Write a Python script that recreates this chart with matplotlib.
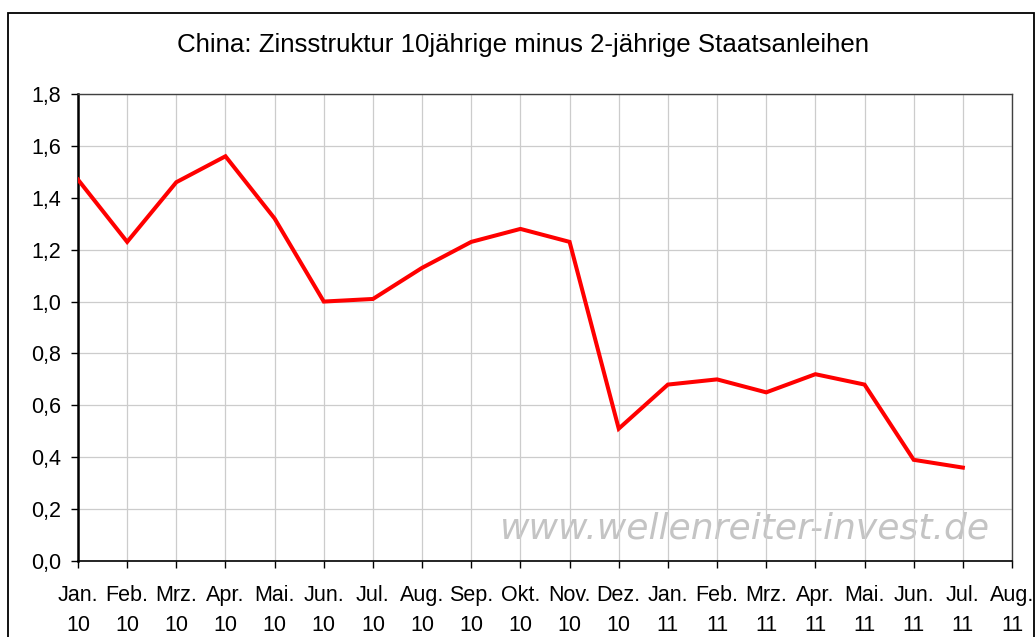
import matplotlib
matplotlib.use("Agg")
import matplotlib.pyplot as plt
from matplotlib.patches import Rectangle
from matplotlib.ticker import FuncFormatter, FixedLocator

plt.rcParams['font.family'] = ['Liberation Sans', 'DejaVu Sans']

months = ["Jan.", "Feb.", "Mrz.", "Apr.", "Mai.", "Jun.", "Jul.", "Aug.", "Sep.", "Okt.",
          "Nov.", "Dez.", "Jan.", "Feb.", "Mrz.", "Apr.", "Mai.", "Jun.", "Jul.", "Aug."]
years = ["10"] * 12 + ["11"] * 8
values = [1.47, 1.23, 1.46, 1.56, 1.32, 1.00, 1.01, 1.13, 1.23, 1.28,
          1.23, 0.51, 0.68, 0.70, 0.65, 0.72, 0.68, 0.39, 0.36]
title = "China: Zinsstruktur 10jährige minus 2-jährige Staatsanleihen"
watermark = "www.wellenreiter-invest.de"

W, H = 1036, 637
fig = plt.figure(figsize=(W / 100, H / 100), dpi=100)
ax = fig.add_axes([78 / W, 1 - 561 / H, (1012 - 78) / W, (561 - 94) / H])

labels = [f"{m}\n{y}" for m, y in zip(months, years)]
n = len(labels)
ax.plot(range(len(values)), values, color="#ff0000", lw=2.9, solid_joinstyle="miter", zorder=3)

ax.set_xlim(0, n - 1)
ax.set_ylim(0, 1.8)
ax.xaxis.set_major_locator(FixedLocator(range(n)))
ax.set_xticklabels(labels, fontsize=15.5, linespacing=1.6)
ax.yaxis.set_major_locator(FixedLocator([i * 0.2 for i in range(10)]))
ax.yaxis.set_major_formatter(FuncFormatter(lambda v, p: f"{v:.1f}".replace(".", ",")))
ax.tick_params(axis="y", labelsize=15.5, length=5, width=1, pad=7, direction="out")
ax.tick_params(axis="x", length=5, width=1, pad=12, direction="out")

ax.grid(True, color="#cccccc", lw=0.9, zorder=0)
for s in ["top", "right"]:
    ax.spines[s].set_color("#404040")
    ax.spines[s].set_linewidth(1.0)
ax.spines["left"].set_color("black")
ax.spines["left"].set_linewidth(1.8)
ax.spines["bottom"].set_color("black")
ax.spines["bottom"].set_linewidth(1.2)

fig.text(523 / W, 1 - 45 / H, title, ha="center", va="center", fontsize=18.6)
ax.text(0.976, 0.069, watermark, transform=ax.transAxes, ha="right", va="center",
        fontsize=26, style="italic", color="#c4c4c4", family="DejaVu Sans", zorder=1)

fig.patches.append(Rectangle((8 / W, -0.1), (1034 - 8) / W, 1.1 - 13 / H,
                             transform=fig.transFigure, fill=False, edgecolor="black",
                             lw=1.3))

fig.savefig("out.png", dpi=100)
